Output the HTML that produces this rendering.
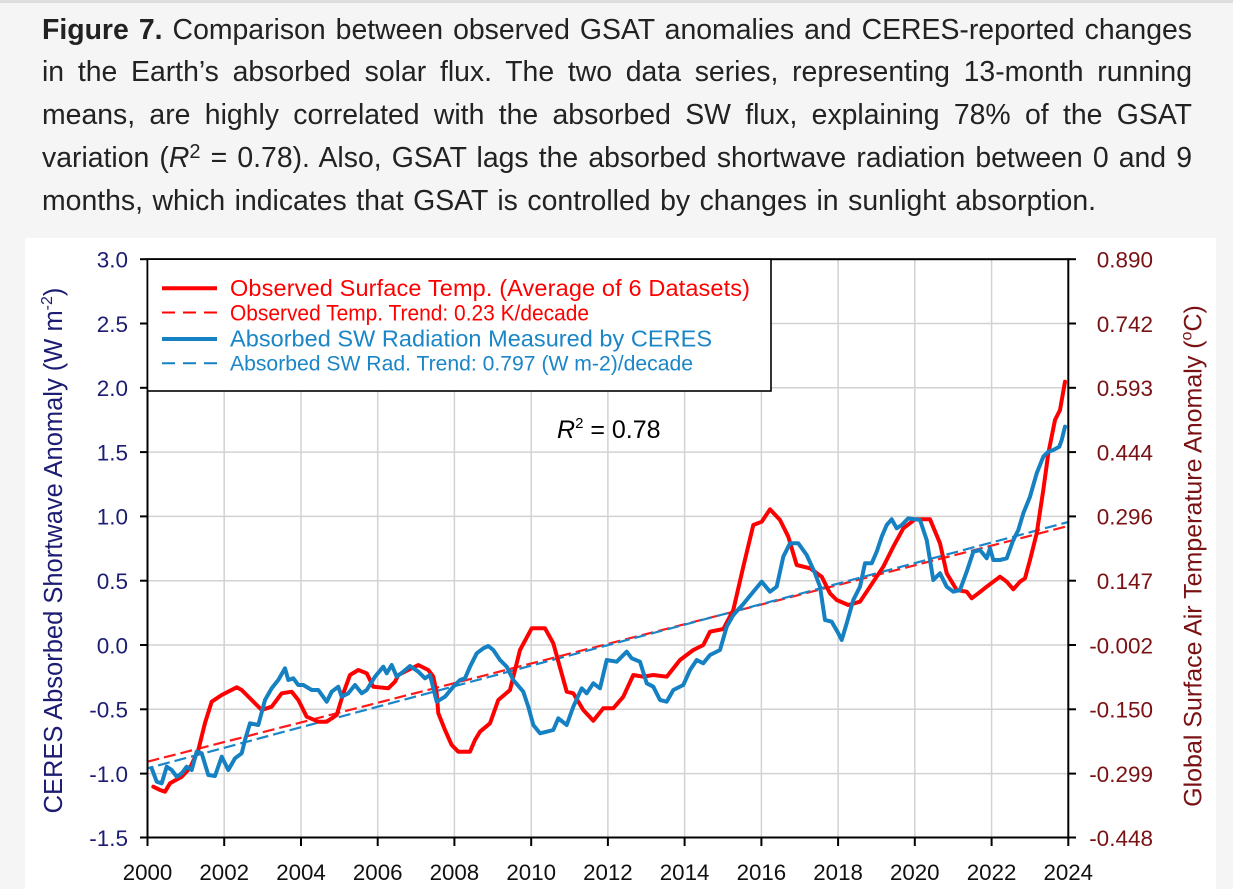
<!DOCTYPE html>
<html><head><meta charset="utf-8">
<style>
html,body{margin:0;padding:0;}
body{width:1233px;height:889px;background:#f5f5f5;position:relative;overflow:hidden;font-family:"Liberation Sans",Arial,sans-serif;}
.topbar{position:absolute;left:0;top:0;width:1233px;height:3px;background:#dedede;}
.cap{position:absolute;left:42px;top:8.5px;color:#222;font-size:28.4px;}
.ln{height:42.85px;line-height:42.85px;text-align:justify;text-align-last:justify;white-space:normal;}
.ln sup{font-size:20px;line-height:0;vertical-align:9px;}
svg{position:absolute;left:0;top:0;}
</style></head><body>
<div class="topbar"></div>
<div class="cap">
<div class="ln" style="width:1150px"><b>Figure 7.</b> Comparison between observed GSAT anomalies and CERES-reported changes</div>
<div class="ln" style="width:1150px">in the Earth’s absorbed solar flux. The two data series, representing 13-month running</div>
<div class="ln" style="width:1150px">means, are highly correlated with the absorbed SW flux, explaining 78% of the GSAT</div>
<div class="ln" style="width:1150px">variation (<i>R</i><sup>2</sup> = 0.78). Also, GSAT lags the absorbed shortwave radiation between 0 and 9</div>
<div class="ln" style="width:1054px">months, which indicates that GSAT is controlled by changes in sunlight absorption.</div>
</div>
<svg width="1233" height="889" viewBox="0 0 1233 889" font-family="Liberation Sans, Arial, sans-serif">
<rect x="25" y="238" width="1191" height="651" fill="#ffffff"/>
<!-- grid -->
<g stroke="#d2d2d2" stroke-width="1.5">
<line x1="224.2" y1="259" x2="224.2" y2="837.5"/>
<line x1="301" y1="259" x2="301" y2="837.5"/>
<line x1="377.7" y1="259" x2="377.7" y2="837.5"/>
<line x1="454.4" y1="259" x2="454.4" y2="837.5"/>
<line x1="531.2" y1="259" x2="531.2" y2="837.5"/>
<line x1="607.9" y1="259" x2="607.9" y2="837.5"/>
<line x1="684.6" y1="259" x2="684.6" y2="837.5"/>
<line x1="761.4" y1="259" x2="761.4" y2="837.5"/>
<line x1="838.1" y1="259" x2="838.1" y2="837.5"/>
<line x1="914.8" y1="259" x2="914.8" y2="837.5"/>
<line x1="991.6" y1="259" x2="991.6" y2="837.5"/>
<line x1="147.5" y1="323.5" x2="1068.3" y2="323.5"/>
<line x1="147.5" y1="387.8" x2="1068.3" y2="387.8"/>
<line x1="147.5" y1="452.1" x2="1068.3" y2="452.1"/>
<line x1="147.5" y1="516.4" x2="1068.3" y2="516.4"/>
<line x1="147.5" y1="580.7" x2="1068.3" y2="580.7"/>
<line x1="147.5" y1="645" x2="1068.3" y2="645"/>
<line x1="147.5" y1="709.3" x2="1068.3" y2="709.3"/>
<line x1="147.5" y1="773.6" x2="1068.3" y2="773.6"/>
</g>
<!-- trend lines -->
<line x1="147.5" y1="761.7" x2="1068.3" y2="526" stroke="#ff1a1a" stroke-width="2.2" stroke-dasharray="12,5"/>
<line x1="147.5" y1="768.3" x2="1068.3" y2="522" stroke="#1a86c8" stroke-width="2.2" stroke-dasharray="12,5" stroke-dashoffset="6"/>
<!-- red series -->
<polyline fill="none" stroke="#ff0000" stroke-width="4" stroke-linejoin="round" stroke-linecap="round" points="153.3,786.7 160,790 165,791.7 170,783.3 181.7,776.7 190,768 198.3,750 205,723 211.7,701.7 221.7,695 236.7,687.3 241.7,690 251.7,700 261.7,710 271.7,706.7 281.7,693.3 291.7,691.7 298.3,700 306.7,716.7 318.3,721.7 326.7,721.7 336.7,715 343.3,693.3 350,675 358.3,670 366.7,673.3 373.3,686.7 388.3,688.3 395,681.7 398.3,675 408.3,670 418.3,665 428.3,670 433.3,676.7 436.7,693.3 438.3,713.3 445,730 451.7,745 458.3,751.7 470,751.7 475,740 480,731.7 490,723.3 498.3,700 510,690 520,650 531.7,628.3 545,628.3 553.3,643.3 566.7,691.7 573.3,693.3 583.3,710 593.3,720.7 603.3,708.3 613.3,708.3 623.3,696.7 633.3,675 643.3,676.7 653.3,675 666.7,676.7 680,660 693.3,650 703.3,645 710,631.7 723.3,629 733.3,610 743.3,566.7 753.3,525 761.7,521.7 770,509.3 780,520 788.3,536.7 796.7,565 810,568.3 821.7,576.7 830,593.3 836.7,600 848.3,605 860,601.7 870,586.7 883.3,566.7 893.3,546.7 903.3,528.3 915,519.3 930,519.3 940,543.3 946.7,573.3 956.7,590 966.7,591.7 971.7,598.3 978.3,593.3 986.7,586.7 1000,576.7 1006.7,581.7 1013.3,589.3 1020,581.7 1025,578.3 1030,560 1036.7,533.3 1043.3,490 1048.3,453.3 1055,420 1060,410 1065,381.7"/>
<!-- blue series -->
<polyline fill="none" stroke="#1580c2" stroke-width="4" stroke-linejoin="round" stroke-linecap="round" points="151.7,768.3 156.7,781.7 161.7,783.3 166.7,766.7 171.7,770 176.7,776.7 181.7,773.3 186.7,766.7 191.7,770 196.7,751.7 201.7,753.3 208.3,775 215,776 221.7,756.7 228.3,770 235,758.3 241.7,753.3 245,740 250,723.3 258.3,725 265,700 271.7,688.3 278.3,680 285,668.3 288.3,680 293.3,678.3 298.3,685 303.3,685 311.7,690 318.3,690 326.7,701.7 331.7,691.7 338.3,686.7 341.7,696.7 348.3,693.3 355,685 361.7,693.3 366.7,690 375,676.7 383.3,666.7 386.7,673.3 391.7,665 396.7,676.7 403.3,671.7 410,666 418.3,671.7 425,678.3 430,675 436.7,701.7 445,696.7 453.3,686.7 460,680 465,678.3 470,666.7 476.7,653.3 483.3,648.3 488.3,646 493.3,650 500,660 506.7,666.7 513.3,680 523.3,691.7 528.3,706.7 533.3,725 540,733.3 546.7,731.7 553.3,730 558.3,718.3 566.7,725 573.3,706.7 581.7,688.3 586.7,693.3 593.3,683.3 600,688.3 606.7,660 616.7,661.7 626.7,651.7 631.7,658.3 640,661.7 646.7,683.3 653.3,686.7 660,700 666.7,701.7 673.3,690 683.3,685 690,670 696.7,660 703.3,663.3 710,655 720,650 726.7,626.7 733.3,615 743.3,604 753.3,591.7 761.7,581.7 770,591.7 776.7,586.7 783.3,556.7 790,543.3 798.3,543.3 806.7,555 815,573.3 820,586.7 825,620 831.7,621.7 838.3,633.3 841.7,640 846.7,623.3 853.3,600 860,586.7 865,563.3 871.7,563.3 876.7,551.7 881.7,536.7 886.7,525 891.7,519.3 896.7,528.3 901.7,525 908.3,518.3 920,520 926.7,540 933.3,580 940,573.3 946.7,586.7 953.3,591.7 960,590 966.7,571.7 973.3,551.7 980,550 986.7,558.3 990,548.3 993.3,560 1000,560 1006.7,558.3 1013.3,540 1018.3,530 1023.3,513.3 1030,496.7 1036.7,473.3 1043.3,456.7 1048.3,451.7 1053.3,450 1059.3,446.7 1061.7,440 1065,426.7"/>
<!-- frame -->
<rect x="147.5" y="259.2" width="920.8" height="578.3" fill="none" stroke="#000" stroke-width="2"/>
<!-- ticks -->
<g stroke="#000" stroke-width="2">
<line x1="140" y1="259.2" x2="147.5" y2="259.2"/><line x1="140" y1="323.5" x2="147.5" y2="323.5"/><line x1="140" y1="387.8" x2="147.5" y2="387.8"/><line x1="140" y1="452.1" x2="147.5" y2="452.1"/><line x1="140" y1="516.4" x2="147.5" y2="516.4"/><line x1="140" y1="580.7" x2="147.5" y2="580.7"/><line x1="140" y1="645" x2="147.5" y2="645"/><line x1="140" y1="709.3" x2="147.5" y2="709.3"/><line x1="140" y1="773.6" x2="147.5" y2="773.6"/><line x1="140" y1="837.5" x2="147.5" y2="837.5"/>
<line x1="1068.3" y1="259.2" x2="1076" y2="259.2"/><line x1="1068.3" y1="323.5" x2="1076" y2="323.5"/><line x1="1068.3" y1="387.8" x2="1076" y2="387.8"/><line x1="1068.3" y1="452.1" x2="1076" y2="452.1"/><line x1="1068.3" y1="516.4" x2="1076" y2="516.4"/><line x1="1068.3" y1="580.7" x2="1076" y2="580.7"/><line x1="1068.3" y1="645" x2="1076" y2="645"/><line x1="1068.3" y1="709.3" x2="1076" y2="709.3"/><line x1="1068.3" y1="773.6" x2="1076" y2="773.6"/><line x1="1068.3" y1="837.5" x2="1076" y2="837.5"/>
<line x1="147.5" y1="837.5" x2="147.5" y2="846"/><line x1="224.2" y1="837.5" x2="224.2" y2="846"/><line x1="301" y1="837.5" x2="301" y2="846"/><line x1="377.7" y1="837.5" x2="377.7" y2="846"/><line x1="454.4" y1="837.5" x2="454.4" y2="846"/><line x1="531.2" y1="837.5" x2="531.2" y2="846"/><line x1="607.9" y1="837.5" x2="607.9" y2="846"/><line x1="684.6" y1="837.5" x2="684.6" y2="846"/><line x1="761.4" y1="837.5" x2="761.4" y2="846"/><line x1="838.1" y1="837.5" x2="838.1" y2="846"/><line x1="914.8" y1="837.5" x2="914.8" y2="846"/><line x1="991.6" y1="837.5" x2="991.6" y2="846"/><line x1="1068.3" y1="837.5" x2="1068.3" y2="846"/>
</g>
<!-- left tick labels -->
<g fill="#1c1c72" font-size="22.5" text-anchor="end">
<text x="128" y="267.5">3.0</text><text x="128" y="331.8">2.5</text><text x="128" y="396.1">2.0</text><text x="128" y="460.4">1.5</text><text x="128" y="524.7">1.0</text><text x="128" y="589">0.5</text><text x="128" y="653.3">0.0</text><text x="128" y="717.6">-0.5</text><text x="128" y="781.9">-1.0</text><text x="128" y="846">-1.5</text>
</g>
<!-- right tick labels -->
<g fill="#7a1214" font-size="22.5" text-anchor="end">
<text x="1153" y="267.5">0.890</text><text x="1153" y="331.8">0.742</text><text x="1153" y="396.1">0.593</text><text x="1153" y="460.4">0.444</text><text x="1153" y="524.7">0.296</text><text x="1153" y="589">0.147</text><text x="1153" y="653.3">-0.002</text><text x="1153" y="717.6">-0.150</text><text x="1153" y="781.9">-0.299</text><text x="1153" y="846">-0.448</text>
</g>
<!-- x labels -->
<g fill="#111" font-size="22.3" text-anchor="middle">
<text x="147.5" y="880">2000</text><text x="224.2" y="880">2002</text><text x="301" y="880">2004</text><text x="377.7" y="880">2006</text><text x="454.4" y="880">2008</text><text x="531.2" y="880">2010</text><text x="607.9" y="880">2012</text><text x="684.6" y="880">2014</text><text x="761.4" y="880">2016</text><text x="838.1" y="880">2018</text><text x="914.8" y="880">2020</text><text x="991.6" y="880">2022</text><text x="1068.3" y="880">2024</text>
</g>
<!-- axis titles -->
<text transform="translate(62,550.5) rotate(-90)" text-anchor="middle" fill="#1c1c72" font-size="25.5">CERES Absorbed Shortwave Anomaly (W m<tspan font-size="16" dy="-10">-2</tspan><tspan dy="10">)</tspan></text>
<text transform="translate(1201.5,556) rotate(-90)" text-anchor="middle" fill="#7a1214" font-size="25">Global Surface Air Temperature Anomaly (<tspan font-size="16" dy="-10">o</tspan><tspan dy="10">C)</tspan></text>
<!-- legend -->
<rect x="147.5" y="259.2" width="623.5" height="131.8" fill="#ffffff" stroke="#000" stroke-width="1.6"/>
<line x1="162" y1="288.3" x2="217" y2="288.3" stroke="#ff0000" stroke-width="4"/>
<line x1="162" y1="312.5" x2="217" y2="312.5" stroke="#ff0000" stroke-width="2" stroke-dasharray="13,8"/>
<line x1="162" y1="339" x2="217" y2="339" stroke="#1580c2" stroke-width="4"/>
<line x1="162" y1="363.3" x2="217" y2="363.3" stroke="#1580c2" stroke-width="2" stroke-dasharray="13,8"/>
<text x="230" y="296" fill="#ff0000" font-size="23.5" textLength="520" lengthAdjust="spacing">Observed Surface Temp. (Average of 6 Datasets)</text>
<text x="230" y="320.5" fill="#ff0000" font-size="22" textLength="359" lengthAdjust="spacingAndGlyphs">Observed Temp. Trend: 0.23 K/decade</text>
<text x="230" y="346.5" fill="#1a86c8" font-size="23.5" textLength="482" lengthAdjust="spacing">Absorbed SW Radiation Measured by CERES</text>
<text x="230" y="370.7" fill="#1a86c8" font-size="21.5" textLength="463" lengthAdjust="spacingAndGlyphs">Absorbed SW Rad. Trend: 0.797 (W m-2)/decade</text>
<!-- R2 -->
<text x="557" y="438" fill="#000" font-size="25"><tspan font-style="italic">R</tspan><tspan font-size="15" dy="-10">2</tspan><tspan dy="10"> = 0.78</tspan></text>
</svg>
</body></html>
